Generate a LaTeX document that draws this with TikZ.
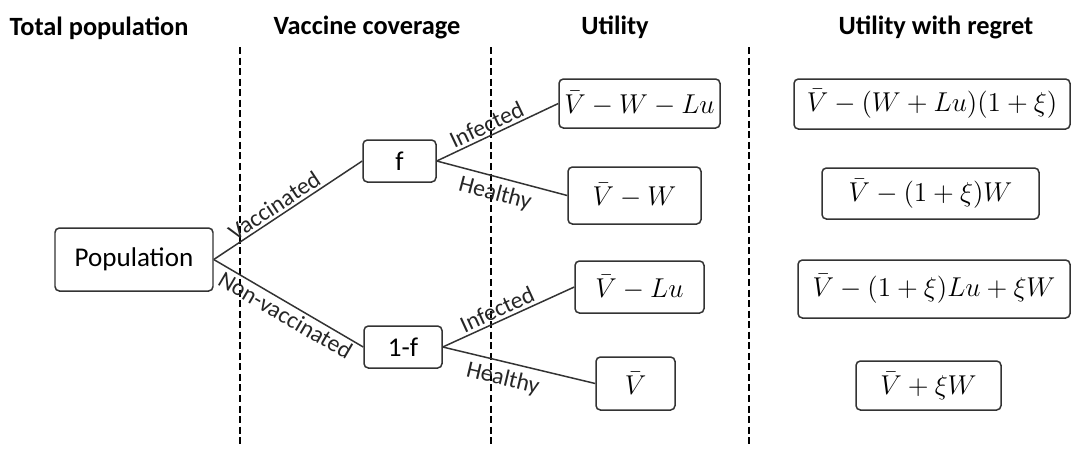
\documentclass[tikz,border=0pt]{standalone}
\usepackage{fix-cm}
\usepackage{fontspec}
\setmainfont{Carlito}
\usepackage{amsmath}
\usetikzlibrary{calc, positioning}

\begin{document}
\begin{tikzpicture}[
  box/.style={
    rectangle, rounded corners=2.5pt,
    draw=black!80, line width=0.85pt,
    align=center, inner sep=2pt,
    font=\fontsize{15.4}{18}\selectfont
  },
  eqbox/.style={box, font=\fontsize{15.5}{18}\selectfont},
  head/.style={font=\fontsize{15}{18}\selectfont\bfseries},
  branch/.style={line width=0.85pt, color=black!80},
  sep/.style={line width=0.6pt, dash pattern=on 4pt off 2pt},
  lbl/.style={font=\fontsize{13.5}{16}\selectfont, sloped,
    inner sep=1.5pt, color=black!85}
]
\useasboundingbox (0,0) rectangle (21.42,-9.02);

%% ═══════════════════════════════════════════════
%% Column headings and separators
%% ═══════════════════════════════════════════════
\node[head] (hpop)  at (1.98,-0.56)  {Total population};
\node[head] (hcov)  at (7.34,-0.54)  {Vaccine coverage};
\node[head] (hutil) at (12.30,-0.54) {Utility};
\node[head] (hreg)  at (18.72,-0.54) {Utility with regret};

\draw[sep] (4.80,-0.94) -- (4.80,-8.94);
\draw[sep] (9.82,-0.94) -- (9.82,-8.94);
\draw[sep] (14.98,-0.94) -- (14.98,-8.94);

%% ═══════════════════════════════════════════════
%% Tree
%% ═══════════════════════════════════════════════
\node[box, minimum width=3.16cm, minimum height=1.26cm]
  (pop) at (2.68,-5.19) {Population};

\node[box, minimum width=1.46cm, minimum height=0.84cm]
  (vac) at (7.99,-3.22) {f};
\node[box, minimum width=1.56cm, minimum height=0.84cm]
  (nvac) at (8.06,-6.94) {1-f};

%% Utility
\node[eqbox, minimum width=3.22cm, minimum height=0.98cm]
  (uvi) at (12.79,-2.07) {$\bar{V}-W-Lu$};
\node[eqbox, minimum width=2.66cm, minimum height=1.14cm]
  (uvh) at (12.69,-3.91) {$\bar{V}-W$};
\node[eqbox, minimum width=2.58cm, minimum height=1.04cm]
  (uni) at (12.79,-5.74) {$\bar{V}-Lu$};
\node[eqbox, minimum width=1.58cm, minimum height=1.06cm]
  (unh) at (12.71,-7.67) {$\bar{V}$};

%% Utility with regret
\node[eqbox, minimum width=5.52cm, minimum height=1.0cm]
  (rvi) at (18.64,-2.08) {$\bar{V}-(W+Lu)(1+\xi)$};
\node[eqbox, minimum width=4.34cm, minimum height=1.02cm]
  (rvh) at (18.61,-3.87) {$\bar{V}-(1+\xi)W$};
\node[eqbox, minimum width=5.44cm, minimum height=1.16cm]
  (rni) at (18.68,-5.78) {$\bar{V}-(1+\xi)Lu+\xi W$};
\node[eqbox, minimum width=2.90cm, minimum height=0.98cm]
  (rnh) at (18.57,-7.71) {$\bar{V}+\xi W$};

%% ── Branches ───────────────────────────────────
\draw[branch] (pop.east) --
  node[lbl, above, pos=0.45] {Vaccinated} (vac.west);
\draw[branch] (pop.east) --
  node[lbl, below, pos=0.52] {Non-vaccinated} (nvac.west);

\draw[branch] (vac.east) --
  node[lbl, above, pos=0.45] {Infected} (uvi.west);
\draw[branch] (vac.east) --
  node[lbl, below, pos=0.48, yshift=-2pt] {Healthy} (uvh.west);

\draw[branch] (nvac.east) --
  node[lbl, above, pos=0.45] {Infected} (uni.west);
\draw[branch] (nvac.east) --
  node[lbl, below, pos=0.42, yshift=-2pt] {Healthy} (unh.west);

\end{tikzpicture}
\end{document}
